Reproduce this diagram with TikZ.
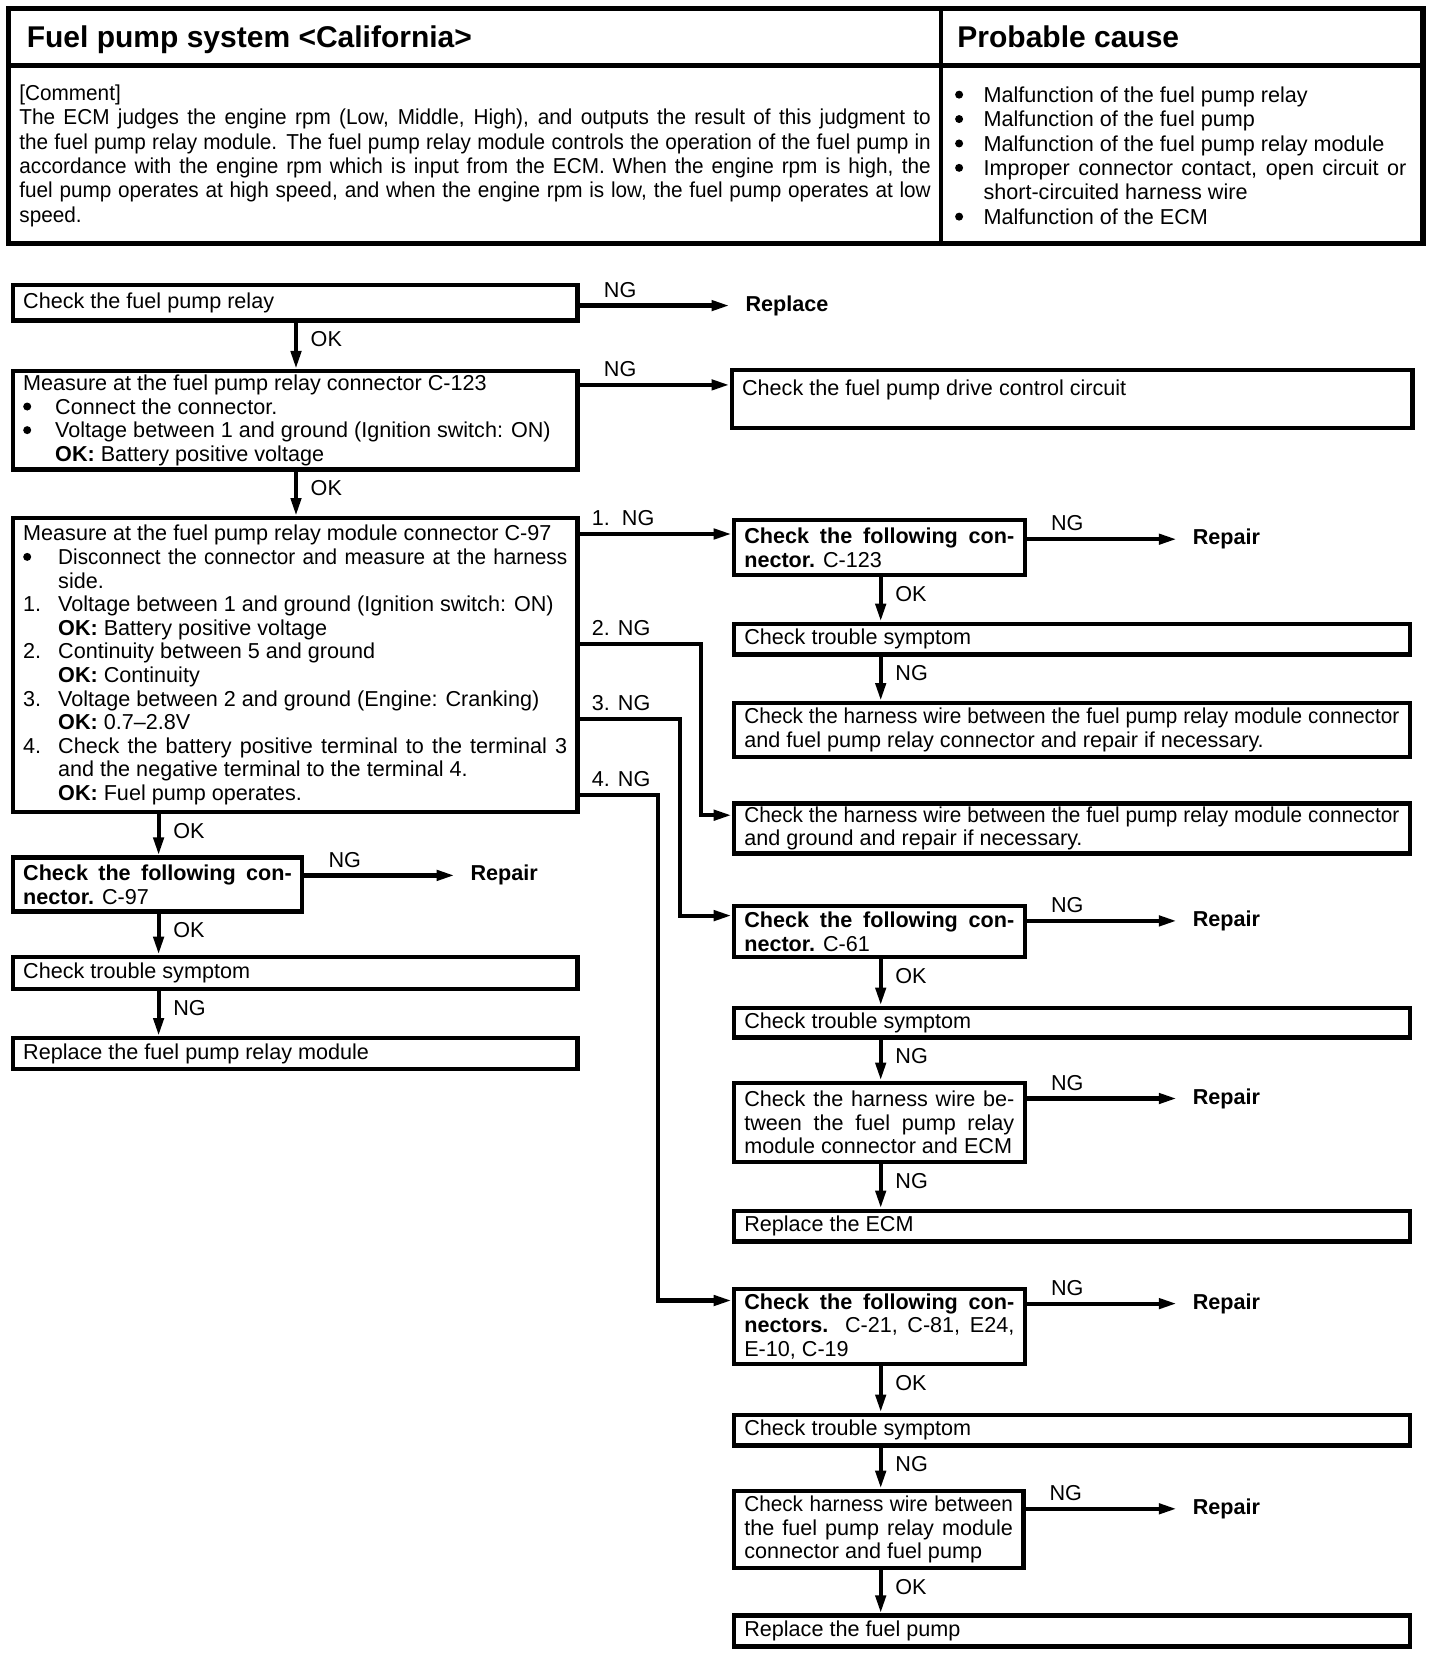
\documentclass[tikz,border=0pt]{standalone}
\usepackage{fontspec}
\setmainfont{Liberation Sans}
\newfontfamily\tightfont[FakeStretch=0.96]{Liberation Sans}
\usepackage{tikz}
\usetikzlibrary{positioning,arrows.meta}
\setlength{\parindent}{0pt}

\newcommand{\boxfont}{\fontsize{10.8}{11.8}\selectfont\hyphenpenalty=10000 }
\newcommand{\headfont}{\fontsize{10.8}{12.2}\selectfont\hyphenpenalty=10000 }
\newcommand{\dotmark}{\tikz[baseline=-3.8pt]\fill (0,0) circle (2pt);}
\newcommand{\litem}[3][16pt]{\noindent\hangindent=#1\hangafter=1\makebox[#1][l]{#2}#3\par}
\newcommand{\okline}[2][16pt]{\noindent\hspace*{#1}\textbf{OK:} #2\par}

\begin{document}
\begin{tikzpicture}[x=0.5pt, y=-0.5pt,
    box/.style={draw, line width=2.2pt, anchor=north west, inner xsep=5.2pt, inner ysep=1.5pt, align=justify, font=\boxfont},
    wideL/.style={text width=272pt},
    wideR/.style={text width=327.5pt},
    narrow/.style={text width=135pt},
    flow/.style={line width=2.1pt, -{Triangle[length=9pt, width=5pt]}},
    ok/.style={anchor=north west, inner xsep=6.3pt, inner ysep=3.5pt, font=\boxfont},
    ng/.style={anchor=south west, inner xsep=11pt, inner ysep=3pt, font=\boxfont},
    brl/.style={anchor=south west, inner xsep=5pt, inner ysep=3pt, font=\boxfont},
    result/.style={anchor=west, inner xsep=7.8pt, font=\boxfont\bfseries}]

    \fill[white] (0,0) rectangle (1440,1658);

    % header table
    \draw[line width=2.6pt] (8.5,8.5) rectangle (1423,243.2);
    \draw[line width=2.6pt] (8.5,65.6) -- (1423,65.6);
    \draw[line width=2.3pt] (941,8.5) -- (941,243.2);
    \node[anchor=base west, inner sep=0pt, font=\fontsize{15}{18}\selectfont\bfseries] (title) at (26.4,47.6) {Fuel pump system <California>};
    \node[anchor=base west, inner sep=0pt, font=\fontsize{15}{18}\selectfont\bfseries] (causehead) at (957,47.6) {Probable cause};
    \node[anchor=north west, inner sep=0pt, text width=455.7pt, align=justify, font=\tightfont\headfont] (comment) at (19,84.2) {%
        [Comment]\par
        The ECM judges the engine rpm (Low, Middle, High), and outputs the result of this judgment to\linebreak
        the fuel pump relay module. The fuel pump relay module controls the operation of the fuel pump in\linebreak
        accordance with the engine rpm which is input from the ECM. When the engine rpm is high, the\linebreak
        fuel pump operates at high speed, and when the engine rpm is low, the fuel pump operates at low\linebreak
        speed.};
    \node[anchor=north west, inner sep=0pt, text width=225.6pt, align=justify, font=\headfont] (causes) at (954.7,86.2) {%
        \litem[14.2pt]{\dotmark}{Malfunction of the fuel pump relay}
        \litem[14.2pt]{\dotmark}{Malfunction of the fuel pump}
        \litem[14.2pt]{\dotmark}{Malfunction of the fuel pump relay module}
        \litem[14.2pt]{\dotmark}{Improper connector contact, open circuit or\linebreak short-circuited harness wire}
        \litem[14.2pt]{\dotmark}{Malfunction of the ECM}};

    % left column
    \node[box, wideL, minimum height=17.65pt] (relay) at (10.6,283) {Check the fuel pump relay};
    \node[box, wideL, minimum height=49.15pt] (meas1) at (10.6,369) {%
        Measure at the fuel pump relay connector C-123\par
        \litem{\dotmark}{Connect the connector.}
        \litem{\dotmark}{Voltage between 1 and ground (Ignition switch: ON)}
        \okline{Battery positive voltage}};
    \node[box, wideL, minimum height=146.9pt] (meas2) at (10.6,516) {%
        Measure at the fuel pump relay module connector C-97\par
        \litem[17.5pt]{\dotmark}{{\tightfont Disconnect the connector and measure at the harness}\linebreak side.}
        \litem[17.5pt]{1.}{Voltage between 1 and ground (Ignition switch: ON)}
        \okline[17.5pt]{Battery positive voltage}
        \litem[17.5pt]{2.}{Continuity between 5 and ground}
        \okline[17.5pt]{Continuity}
        \litem[17.5pt]{3.}{Voltage between 2 and ground (Engine: Cranking)}
        \okline[17.5pt]{0.7\textendash2.8V}
        \litem[17.5pt]{4.}{Check the battery positive terminal to the terminal 3\linebreak and the negative terminal to the terminal 4.}
        \okline[17.5pt]{Fuel pump operates.}};
    \node[box, text width=134.3pt, minimum height=26.95pt] (conn97) at (10.6,855.4) {\textbf{Check the following con-}\linebreak \textbf{nector.} C-97};
    \node[box, wideL, minimum height=15.9pt] (sym97) at (10.6,954.7) {Check trouble symptom};
    \node[box, wideL, minimum height=15.4pt] (rplmod) at (10.6,1036) {Replace the fuel pump relay module};

    % right column
    \node[box, text width=330pt, minimum height=28.9pt] (drive) at (729.5,368) {Check the fuel pump drive control circuit\par\mbox{}};
    \node[box, narrow, minimum height=27.4pt] (conn123) at (731.7,518) {\textbf{Check the following con-}\linebreak \textbf{nector.} C-123};
    \node[box, wideR, minimum height=15.35pt] (sym123) at (731.7,621.7) {Check trouble symptom};
    \node[box, wideR, minimum height=26.9pt] (hrn123) at (731.7,701) {{\tightfont Check the harness wire between the fuel pump relay module connector}\linebreak and fuel pump relay connector and repair if necessary.};
    \node[box, wideR, minimum height=24.9pt] (hrngnd) at (731.7,801.4) {{\tightfont Check the harness wire between the fuel pump relay module connector}\linebreak and ground and repair if necessary.};
    \node[box, narrow, minimum height=25.4pt] (conn61) at (731.7,904) {\textbf{Check the following con-}\linebreak \textbf{nector.} C-61};
    \node[box, wideR, minimum height=14.8pt] (sym61) at (731.7,1005.5) {Check trouble symptom};
    \node[box, narrow, minimum height=39.6pt] (hrnecm) at (731.7,1080.6) {Check the harness wire be-\linebreak tween the fuel pump relay\linebreak module connector and ECM};
    \node[box, wideR, minimum height=15.35pt] (rplecm) at (731.7,1208.5) {Replace the ECM};
    \node[box, narrow, minimum height=37.55pt] (conn21) at (731.7,1286.7) {\textbf{Check the following con-}\linebreak \textbf{nectors.} C-21, C-81, E24,\linebreak E-10, C-19};
    \node[box, wideR, minimum height=15.35pt] (sym21) at (731.7,1412.5) {Check trouble symptom};
    \node[box, text width=134.3pt, minimum height=38.55pt] (hrnfp) at (731.7,1488.7) {{\tightfont Check harness wire between}\linebreak the fuel pump relay module\linebreak connector and fuel pump};
    \node[box, wideR, minimum height=15.35pt] (rplfp) at (731.7,1613.4) {Replace the fuel pump};

    % results
    \node[result] (replace) at (729.5,305.6) {Replace};
    \node[result] (rep97) at (454.6,875.4) {Repair};
    \node[result] (rep123) at (1176.8,539.2) {Repair};
    \node[result] (rep61) at (1176.8,920.9) {Repair};
    \node[result] (repecm) at (1176.8,1098.5) {Repair};
    \node[result] (rep21) at (1176.8,1303.6) {Repair};
    \node[result] (repfp) at (1176.8,1508.8) {Repair};

    \coordinate (colA) at (296,0);
    \coordinate (colB) at (158.6,0);
    \coordinate (colC) at (880.7,0);
    \coordinate (drv) at (0,384.9);
    \coordinate (br1) at (0,534);
    \coordinate (br2) at (701,643.9);
    \coordinate (tn2) at (701,815.2);
    \coordinate (br3) at (679.8,719);
    \coordinate (tn3) at (679.8,915.6);
    \coordinate (br4) at (657.6,795);
    \coordinate (tn4) at (657.6,1300.5);

    % OK / NG downwards
    \draw[flow] (relay.south -| colA) -- node[ok, pos=0] {OK} (meas1.north -| colA);
    \draw[flow] (meas1.south -| colA) -- node[ok, pos=0] {OK} (meas2.north -| colA);
    \draw[flow] (meas2.south -| colB) -- node[ok, pos=0] {OK} (conn97.north -| colB);
    \draw[flow] (conn97.south -| colB) -- node[ok, pos=0] {OK} (sym97.north -| colB);
    \draw[flow] (sym97.south -| colB) -- node[ok, pos=0] {NG} (rplmod.north -| colB);
    \draw[flow] (conn123.south -| colC) -- node[ok, pos=0] {OK} (sym123.north -| colC);
    \draw[flow] (sym123.south -| colC) -- node[ok, pos=0] {NG} (hrn123.north -| colC);
    \draw[flow] (conn61.south -| colC) -- node[ok, pos=0] {OK} (sym61.north -| colC);
    \draw[flow] (sym61.south -| colC) -- node[ok, pos=0] {NG} (hrnecm.north -| colC);
    \draw[flow] (hrnecm.south -| colC) -- node[ok, pos=0] {NG} (rplecm.north -| colC);
    \draw[flow] (conn21.south -| colC) -- node[ok, pos=0] {OK} (sym21.north -| colC);
    \draw[flow] (sym21.south -| colC) -- node[ok, pos=0] {NG} (hrnfp.north -| colC);
    \draw[flow] (hrnfp.south -| colC) -- node[ok, pos=0] {OK} (rplfp.north -| colC);

    % NG to the right
    \draw[flow] (relay.east |- replace.west) -- node[ng, pos=0] {NG} (replace.west);
    \draw[flow] (meas1.east |- drv) -- node[ng, pos=0] {NG} (drive.west |- drv);
    \draw[flow] (conn97.east |- rep97.west) -- node[ng, pos=0] {NG} (rep97.west);
    \draw[flow] (conn123.east |- rep123.west) -- node[ng, pos=0] {NG} (rep123.west);
    \draw[flow] (conn61.east |- rep61.west) -- node[ng, pos=0] {NG} (rep61.west);
    \draw[flow] (hrnecm.east |- repecm.west) -- node[ng, pos=0] {NG} (repecm.west);
    \draw[flow] (conn21.east |- rep21.west) -- node[ng, pos=0] {NG} (rep21.west);
    \draw[flow] (hrnfp.east |- repfp.west) -- node[ng, pos=0] {NG} (repfp.west);

    % branches of the module check
    \draw[flow] (meas2.east |- br1) -- node[brl, pos=0] {1.\ \ NG} (conn123.west |- br1);
    \draw[flow] (meas2.east |- br2) node[brl] {2. NG} -- (br2) -- (tn2) -- (hrngnd.west |- tn2);
    \draw[flow] (meas2.east |- br3) node[brl] {3. NG} -- (br3) -- (tn3) -- (conn61.west |- tn3);
    \draw[flow] (meas2.east |- br4) node[brl] {4. NG} -- (br4) -- (tn4) -- (conn21.west |- tn4);

\end{tikzpicture}
\end{document}
